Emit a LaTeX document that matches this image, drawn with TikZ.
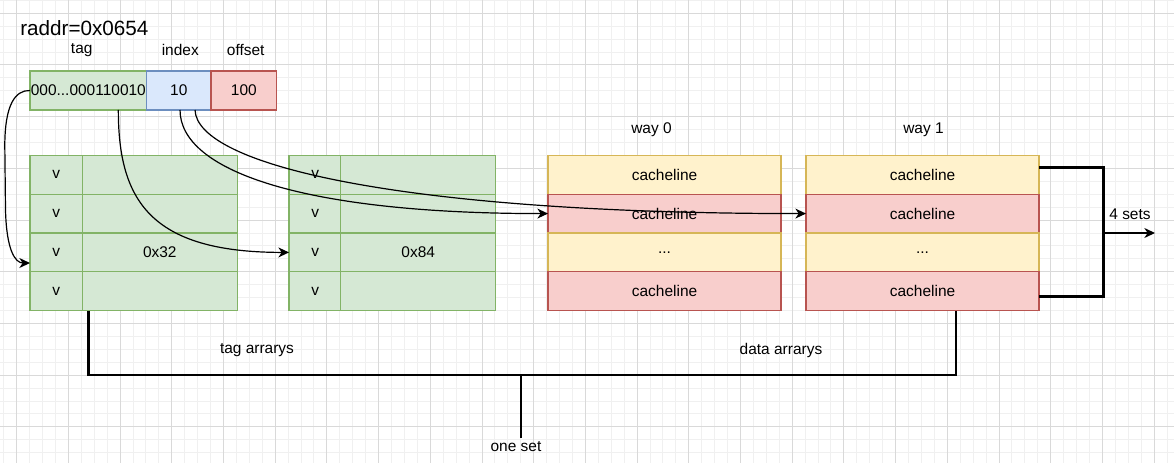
\documentclass[tikz,border=0pt]{standalone}
\usepackage{fontspec}
\setmainfont{Liberation Sans}
\usetikzlibrary{arrows.meta,calc}
\definecolor{grnF}{HTML}{D5E8D4}
\definecolor{grnS}{HTML}{82B366}
\definecolor{bluF}{HTML}{DAE8FC}
\definecolor{bluS}{HTML}{6C8EBF}
\definecolor{redF}{HTML}{F8CECC}
\definecolor{redS}{HTML}{B85450}
\definecolor{yelF}{HTML}{FFF2CC}
\definecolor{yelS}{HTML}{D6B656}
\definecolor{gridMaj}{HTML}{D9D9D9}
\definecolor{gridMin}{HTML}{F0F0F0}
\begin{document}
\begin{tikzpicture}[x=0.75pt,y=-0.75pt,
  txt/.style={font=\fontsize{11.6pt}{13pt}\selectfont, text=black, inner sep=0pt},
  bigtxt/.style={font=\fontsize{15.5pt}{17pt}\selectfont, text=black, inner sep=0pt},
  box/.style={txt, draw, line width=0.9pt, minimum height=29.14pt, anchor=north west, outer sep=0pt},
  greenbox/.style={box, draw=grnS, fill=grnF},
  vcol/.style={greenbox, minimum width=39.2pt},
  dcol/.style={greenbox, minimum width=116.25pt},
  yline/.style={box, draw=yelS, fill=yelF, minimum width=174.8pt},
  rline/.style={box, draw=redS, fill=redF, minimum width=174.8pt},
  addr/.style={box, minimum height=29.25pt},
  link/.style={line width=0.9pt, -{Stealth[length=8pt,width=7.5pt,inset=2.5pt]}},
  brace/.style={line width=1.8pt, line join=miter},
  gmin/.style={draw=gridMin, line width=0.75pt},
  gmaj/.style={draw=gridMaj, line width=0.75pt},
]
% background and grid
\fill[white] (0,0) rectangle (1174,463);
\useasboundingbox (0,0) rectangle (1174,463);
\foreach \i in {0,...,90} \draw[gmin] ({3.775+\i*12.925},0) -- ++(0,463);
\foreach \i in {0,...,35} \draw[gmin] (0,{0.375+\i*12.925}) -- ++(1174,0);
\foreach \i in {0,...,22} \draw[gmaj] ({16.7+\i*51.7},0) -- ++(0,463);
\foreach \i in {0,...,8} \draw[gmaj] (0,{13.3+\i*51.7}) -- ++(1174,0);

% address
\node[bigtxt, anchor=west] (raddr) at (20,28.3) {raddr=0x0654};
\node[txt] (ltag) at (81.7,50) {tag};
\node[txt] (lidx) at (180.3,50) {index};
\node[txt] (loff) at (245.7,50) {offset};
\node[addr, draw=grnS, fill=grnF, minimum width=87.5pt] (tagf) at (30,71) {000...000110010};
\node[addr, draw=bluS, fill=bluF, minimum width=48.2pt] (idxf) at (146.7,71) {10};
\node[addr, draw=redS, fill=redF, minimum width=49.3pt] (offf) at (211,71) {100};

% tag arrays
\foreach \r/\y in {1/155.3,2/194.15,3/233,4/271.85} {
  \node[vcol] (t1v\r) at (30,\y) {v};
  \node[dcol] (t1d\r) at (82.3,\y) {};
  \node[vcol] (t2v\r) at (289,\y) {v};
  \node[dcol] (t2d\r) at (340.7,\y) {};
}
\node[txt] (v32) at (t1d3.center) {0x32};
\node[txt] (v84) at (t2d3.center) {0x84};

% data arrays
\node[txt] (way0) at (651.5,130) {way 0};
\node[txt] (way1) at (923.5,130) {way 1};
\node[yline] (w0r1) at (548,155.3) {cacheline};
\node[rline] (w0r2) at (548,194.15) {cacheline};
\node[yline] (w0r3) at (548,233) {...};
\node[rline] (w0r4) at (548,271.85) {cacheline};
\node[yline] (w1r1) at (806,155.3) {cacheline};
\node[rline] (w1r2) at (806,194.15) {cacheline};
\node[yline] (w1r3) at (806,233) {...};
\node[rline] (w1r4) at (806,271.85) {cacheline};

% curved links
\draw[link] (tagf.west) .. controls (15,90) and (5,105) .. (4.8,145) -- (5.5,210) .. controls (6.5,250) and (15,263) .. ($(t1v3.west)+(0,10.6)$);
\draw[link] ($(tagf.south)+(30,0)$) .. controls (118.3,200) and (150,252.4) .. (t2v3.west);
\draw[link] ($(idxf.south)+(1.2,0)$) .. controls (180,170) and (300,213.6) .. (w0r2.west);
\draw[link] ($(idxf.south)+(16.2,0)$) .. controls (197,165) and (400,213.6) .. (w1r2.west);

% sets bracket
\coordinate (rb) at (1103.3,233);
\coordinate (se) at (1155,233);
\draw[brace] ($(w1r1.east)+(0,-7.4)$) -| (rb) |- ($(w1r4.east)+(0,5.4)$);
\draw[link] (rb) -- (se);
\node[txt] (sets) at (1130,214) {4 sets};

% one set bracket
\node[txt] (tagarr) at (257,350) {tag arrarys};
\node[txt] (datarr) at (781,350) {data arrarys};
\node[txt] (oneset) at (516,446.7) {one set};
\coordinate (bj) at (521,375);
\draw[brace] ($(t1d4.south west)+(6.1,0)$) |- (bj) -| ($(w1r4.south west)+(150,0)$);
\draw[brace] (bj) -- ($(bj |- oneset.north)+(0,-3)$);
\end{tikzpicture}
\end{document}
